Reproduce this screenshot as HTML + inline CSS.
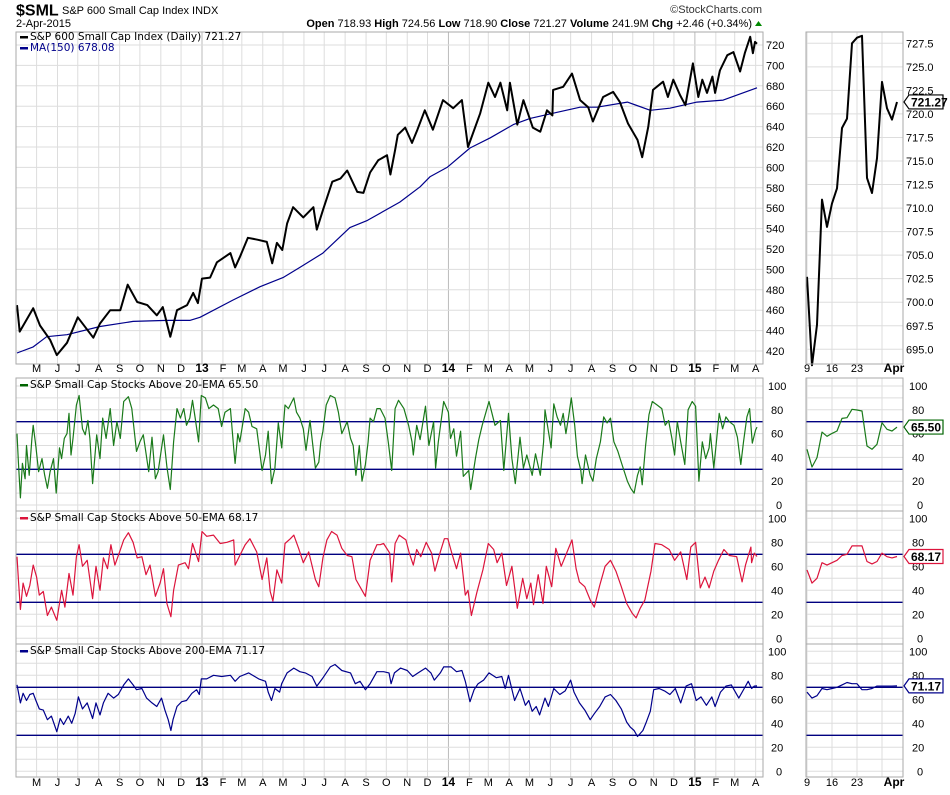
<!DOCTYPE html>
<html><head><meta charset="utf-8">
<style>
html,body{margin:0;padding:0;background:#fff;}
svg{display:block;font-family:"Liberation Sans",sans-serif;}
</style></head>
<body>
<svg id="chart" width="950" height="795" viewBox="0 0 950 795" xmlns="http://www.w3.org/2000/svg">
<rect x="0" y="0" width="950" height="795" fill="#fff"/>
<g>
<text x="16" y="15.5" font-size="16" font-weight="bold">$SML</text>
<text x="62" y="14" font-size="11">S&amp;P 600 Small Cap Index  INDX</text>
<text x="16" y="27" font-size="11">2-Apr-2015</text>
<text x="762" y="13" font-size="11" text-anchor="end" fill="#333">©StockCharts.com</text>
<text x="752" y="27" font-size="11" text-anchor="end"><tspan font-weight="bold">Open</tspan> 718.93  <tspan font-weight="bold">High</tspan> 724.56  <tspan font-weight="bold">Low</tspan> 718.90  <tspan font-weight="bold">Close</tspan> 721.27  <tspan font-weight="bold">Volume</tspan> 241.9M  <tspan font-weight="bold">Chg</tspan> +2.46 (+0.34%)</text>
<path d="M755 26 L762 26 L758.5 21 Z" fill="#080"/>
</g>
<g id="grid"></g>
<g id="marks"></g>
<g id="frames"></g>
<g id="labels"></g>
</svg>
<script>
// ---------- DATA ----------
const priceDays = [0,4,24,34,49,59,74,90,113,123,138,153,164,178,193,207,216,227,237,252,261,268,274,286,296,316,323,330,342,357,370,378,385,393,400,409,424,439,444,453,467,479,489,504,513,523,535,548,553,560,564,575,585,593,604,616,631,646,659,668,686,698,708,716,726,730,741,750,764,775,785,793,794,809,822,834,846,853,868,883,893,905,919,926,935,942,957,964,972,982,990,1001,1009,1015,1022,1030,1034,1041,1052,1061,1071,1078,1086,1090,1093,1096];
const priceValues = [465,439,462,445,431,416,428,453,433,447,460,460,485,468,465,455,463,434,460,465,477,467,491,492,507,516,502,512,531,529,527,506,526,519,545,561,551,561,539,558,586,589,597,576,575,595,607,612,593,617,632,639,624,637,656,637,666,658,666,620,653,683,669,683,656,683,642,666,639,635,656,651,676,679,692,666,659,645,669,674,664,643,627,610,640,676,684,669,686,671,661,702,669,686,673,689,673,695,710,713,694,712,728,712,723,721.27];
const maDays = [0,24,44,74,123,172,222,256,271,320,360,394,419,453,493,519,567,597,612,637,671,701,735,760,800,834,859,904,938,967,1007,1046,1096];
const maValues = [418,424,434,436,444,449,450,450,453,470,483,492,502,516,541,548,566,581,591,600,619,629,642,648,654,659,659,664,656,658,664,666,678.08];

const ema20Days = [0,2,5,8,12,14,18,22,24,28,32,37,41,45,49,54,58,63,66,70,74,77,80,83,88,92,97,101,105,108,112,118,123,127,132,138,143,148,153,158,165,170,177,182,187,195,200,205,209,217,222,227,232,237,242,247,251,256,260,264,269,273,279,284,291,298,303,308,316,321,323,327,330,338,343,348,355,363,368,372,377,382,387,392,397,402,410,414,419,424,428,434,442,447,450,453,458,464,471,476,481,489,494,498,502,507,511,516,520,523,528,533,538,545,550,555,560,565,573,580,585,587,592,597,605,610,617,620,624,632,639,642,647,651,657,661,669,672,679,684,689,694,699,703,708,716,721,728,733,738,745,750,755,763,768,775,780,782,787,791,795,800,805,809,813,817,821,826,830,835,837,842,849,853,858,864,869,874,879,884,890,896,904,909,914,919,923,926,931,936,941,948,955,960,965,970,974,978,983,989,994,1000,1005,1010,1015,1020,1025,1027,1032,1040,1045,1050,1055,1062,1067,1072,1076,1081,1085,1089,1094,1096];
const ema20Values = [60,36,6,35,22,50,25,56,67,49,28,39,25,14,28,39,10,48,39,56,60,77,42,56,84,92,64,59,71,56,18,59,39,73,56,81,50,70,56,87,91,81,45,53,59,28,57,22,28,59,32,13,53,81,73,81,67,73,88,73,53,92,90,81,84,81,66,78,81,48,35,60,53,81,78,66,64,29,42,62,18,31,69,48,84,81,90,78,73,64,46,71,31,36,53,62,84,92,90,78,60,70,56,50,25,50,20,34,53,73,70,81,81,73,52,29,81,88,81,67,53,42,67,55,83,50,70,31,53,87,78,56,64,41,62,24,29,13,39,55,67,77,87,78,67,71,29,77,39,18,57,31,42,25,43,25,53,80,62,48,85,74,67,77,60,74,90,67,41,29,18,42,25,20,39,53,74,69,73,53,45,34,20,14,10,25,32,17,50,76,87,84,81,67,71,56,42,70,53,34,80,87,83,20,53,39,48,60,31,77,64,74,70,67,57,34,53,74,81,52,63,65.5];

const ema50Days = [0,2,5,9,14,19,24,29,33,39,45,51,59,66,71,77,83,88,92,97,104,112,117,123,128,134,139,145,152,158,165,172,178,185,191,197,205,212,217,222,228,232,239,249,254,260,269,274,281,291,301,311,321,323,330,338,345,355,363,370,375,379,385,392,397,405,410,417,424,432,442,447,453,459,466,474,481,489,496,502,511,516,523,533,538,543,552,555,560,566,576,581,587,592,598,606,614,619,627,633,638,644,651,657,664,668,673,681,690,698,706,711,718,725,733,741,749,755,761,765,772,779,784,792,798,806,814,822,828,833,841,849,855,863,871,879,887,895,903,911,917,923,930,939,945,955,966,974,983,992,998,1005,1012,1019,1025,1032,1039,1047,1055,1066,1074,1079,1087,1088,1092,1096];
const ema50Values = [68,49,24,46,35,44,61,51,36,39,19,26,15,40,26,54,36,68,78,60,65,33,60,40,67,58,78,61,72,82,88,80,67,68,53,61,35,46,58,29,18,40,61,63,58,79,64,89,85,86,79,80,82,61,69,78,83,72,49,67,39,31,57,46,79,83,86,75,63,72,49,43,67,82,89,86,75,69,68,49,40,35,65,78,78,79,71,47,79,86,82,71,61,74,68,80,71,56,72,83,83,71,58,71,36,40,19,38,57,79,74,63,71,44,60,25,50,33,46,28,53,29,60,43,75,60,71,82,58,47,43,32,26,44,60,65,56,43,29,21,17,25,32,56,79,78,74,65,72,49,76,80,42,51,42,56,65,74,69,68,47,61,76,63,71,68.17];

const ema200Days = [0,2,5,9,14,19,24,28,33,39,45,51,59,64,69,76,81,86,91,97,104,112,117,123,128,135,143,150,158,165,172,177,185,192,200,207,214,219,224,228,231,237,244,251,259,266,270,273,281,291,303,316,323,330,343,358,368,372,377,382,389,392,400,410,419,427,437,444,452,464,471,481,494,501,508,516,523,533,538,543,551,554,559,568,578,586,594,605,613,618,627,632,643,651,659,664,671,677,683,691,699,710,718,723,728,737,745,753,758,763,769,774,782,787,795,804,812,820,825,833,841,849,855,863,871,879,887,895,903,908,914,919,927,932,938,943,951,959,967,975,983,991,999,1006,1013,1021,1029,1034,1042,1050,1058,1069,1077,1083,1088,1092,1096];
const ema200Values = [72,66,57,65,59,64,65,59,52,51,43,46,33,44,39,46,40,48,62,52,57,44,57,47,57,65,61,64,72,77,72,68,69,61,57,54,61,51,43,34,43,54,58,59,65,68,64,77,77,80,79,80,75,79,82,77,75,66,59,69,66,73,82,86,83,82,79,71,77,87,89,84,82,73,75,68,73,83,83,83,82,73,82,86,84,79,82,86,82,76,82,87,87,83,84,75,58,68,73,76,82,78,79,69,80,59,69,55,59,50,54,47,61,54,69,64,67,76,66,57,51,43,48,54,62,64,59,52,41,37,34,29,34,41,50,68,69,67,64,69,57,71,73,59,62,55,62,54,66,71,72,61,69,75,69,71,71.17];

// Right-hand zoom panels (daily, 9-Mar-2015 .. 2-Apr-2015)
const recentDays = ["Mar 9","Mar 10","Mar 11","Mar 12","Mar 13","Mar 16","Mar 17","Mar 18","Mar 19","Mar 20","Mar 23","Mar 24","Mar 25","Mar 26","Mar 27","Mar 30","Mar 31","Apr 1","Apr 2"];
const recentPrice = [702.7,693.3,697.6,710.9,708.0,710.5,712.1,718.5,719.5,727.5,728.1,728.3,713.2,711.6,715.3,723.4,720.6,719.4,721.27];
const recentEma20 = [46.8,31.9,39.8,61.3,57.7,60.2,62.2,72.8,73.4,80.4,79.8,79,49.6,46.8,51,69.2,63.6,62.2,65.5];
const recentEma50 = [57,46,50,63,61,63,65,69,70,77,77,77,64,62,64,71,68,67,68.17];
const recentEma200 = [66,61,63,69,68,69,70,72,74,73,73,68,68,69,71,71,71,71,71.17];

const priceTicks = [420,440,460,480,500,520,540,560,580,600,620,640,660,680,700,720];
const recentPriceTicks = [695.0,697.5,700.0,702.5,705.0,707.5,710.0,712.5,715.0,717.5,720.0,722.5,725.0,727.5];
const pctTicks = [0,20,40,60,80,100];
const refLevels = [30,70];
const monthLabels = ["M","J","J","A","S","O","N","D","13","F","M","A","M","J","J","A","S","O","N","D","14","F","M","A","M","J","J","A","S","O","N","D","15","F","M","A"];
const recentTickIdx = [0,5,10,17];
const recentTickLabels = ["9","16","23","Apr"];

// ---------- SCALES ----------
const NS="http://www.w3.org/2000/svg";
const L=16, R=763, RL=806, RR=903;
const xm = d => 17 + d*740/1096;
const xr = i => 807 + i*5;
const yp = v => 45 + (720-v)*1.02;
const yrp = v => 43.3 + (727.5-v)*9.415;
const panels = [
 {top:378,bot:511,zero:505,k:1.19},
 {top:511,bot:644,zero:638.3,k:1.2},
 {top:644,bot:777,zero:771.3,k:1.2}];
const yi = (p,v) => panels[p].zero - v*panels[p].k;

const G=document.getElementById('grid'), M=document.getElementById('marks'), F=document.getElementById('frames'), LB=document.getElementById('labels');
function mk(tag,attrs,parent){const e=document.createElementNS(NS,tag);for(const k in attrs)e.setAttribute(k,attrs[k]);parent.appendChild(e);return e;}
function txt(s,x,y,attrs,parent){const e=mk('text',Object.assign({x:x,y:y,'font-size':11},attrs),parent);e.textContent=s;return e;}

// month starts (days since 2012-04-02)
const start=Date.UTC(2012,3,2);
const monthDays=[];
for(let i=0;i<36;i++){const d=new Date(Date.UTC(2012,4+i,1));monthDays.push((d-start)/86400000);}

// ---------- GRIDS ----------
const panelRects=[{t:32,b:364}].concat(panels.map(p=>({t:p.top,b:p.bot})));
panelRects.forEach((pr,pi)=>{
  monthDays.forEach((d,i)=>{
    const yr=/^\d/.test(monthLabels[i]);
    const ln=mk('line',{x1:xm(d),x2:xm(d),y1:pr.t,y2:pr.b,stroke:yr?'#bbb':'#ddd','stroke-width':1},G);
    
    
  });
  [0,5,10,15].forEach(i=>{
    const ln=mk('line',{x1:xr(i),x2:xr(i),y1:pr.t,y2:pr.b,stroke:'#ddd'},G);
    
    
  });
});
priceTicks.forEach(v=>{
  const ln=mk('line',{x1:L,x2:R,y1:yp(v),y2:yp(v),stroke:'#ddd'},G);
  
  
  const t=txt(String(v),766,yp(v)+4,{},LB);
  
  
});
recentPriceTicks.forEach(v=>{
  const ln=mk('line',{x1:RL,x2:RR,y1:yrp(v),y2:yrp(v),stroke:'#ddd'},G);
  
  
  const t=txt(v.toFixed(1),906,yrp(v)+4,{},LB);
  
  
});
panels.forEach((p,pi)=>{
  for(let v=0;v<=100;v+=10){
    [[L,R],[RL,RR]].forEach(s=>{
      const ln=mk('line',{x1:s[0],x2:s[1],y1:yi(pi,v),y2:yi(pi,v),stroke:'#ddd'},G);
      
      
    });
  }
  pctTicks.forEach(v=>{
    [770,911].forEach(x=>{
      const t=txt(String(v),v===100?x-2:(v===0?x+6:x+1),yi(pi,v)+4,{},LB);
      
      
    });
  });
  refLevels.forEach(v=>{
    [[L,R],[RL,RR]].forEach(s=>{
      const ln=mk('line',{x1:s[0],x2:s[1],y1:yi(pi,v),y2:yi(pi,v),stroke:'#000080','stroke-width':1.3},M);
      
      
    });
  });
});

// ---------- SERIES ----------
function line(days,vals,xf,yf,color,w,name){
  let d='';
  vals.forEach((v,i)=>{d+=(i?'L':'M')+xf(days[i]).toFixed(1)+' '+yf(v).toFixed(1);});
  const p=mk('path',{d:d,fill:'none',stroke:color,'stroke-width':w,'stroke-linejoin':'round'},M);
  
  
}
const idx=recentDays.map((_,i)=>i);
line(maDays,maValues,xm,yp,'#00008b',1.2,'ma150-line');
line(priceDays,priceValues,xm,yp,'#000',2,'price-line');
line(idx,recentPrice,xr,yrp,'#000',2,'recent-price-line');
const inds=[[ema20Days,ema20Values,recentEma20,'#1a7a1a','ema20'],[ema50Days,ema50Values,recentEma50,'#dc143c','ema50'],[ema200Days,ema200Values,recentEma200,'#00008b','ema200']];
inds.forEach((s,pi)=>{
  line(s[0],s[1],xm,v=>yi(pi,v),s[3],1.2,s[4]+'-line');
  line(idx,s[2],xr,v=>yi(pi,v),s[3],1.2,'recent-'+s[4]+'-line');
});

// ---------- FRAMES ----------
panelRects.forEach((pr,pi)=>{
  [[L,R],[RL,RR]].forEach(s=>{
    const r=mk('rect',{x:s[0],y:pr.t,width:s[1]-s[0],height:pr.b-pr.t,fill:'none',stroke:'#aaa'},F);
    
    
  });
});

// ---------- X AXIS LABELS ----------
[372,786].forEach(y=>{
  monthDays.forEach((d,i)=>{
    const yr=/^\d/.test(monthLabels[i]);
    const t=txt(monthLabels[i],xm(d),y,{'text-anchor':'middle','font-weight':yr?'bold':'normal','font-size':yr?12:11},LB);
    
    
  });
  recentTickIdx.forEach((ix,i)=>{
    const t=txt(recentTickLabels[i],xr(ix)+(i===3?2:0),y,{'text-anchor':'middle','font-weight':i===3?'bold':'normal','font-size':i===3?12:11},LB);
    
    
  });
});

// ---------- LEGENDS ----------
const legends=[
 [40,'S&P 600 Small Cap Index (Daily) 721.27','#000','#000'],
 [51,'MA(150) 678.08','#00008b','#00008b'],
 [388,'S&P Small Cap Stocks Above 20-EMA 65.50','#006400','#000'],
 [521,'S&P Small Cap Stocks Above 50-EMA 68.17','#dc143c','#000'],
 [654,'S&P Small Cap Stocks Above 200-EMA 71.17','#00008b','#000']];
legends.forEach(l=>{
  const sw=mk('rect',{x:20,y:l[0]-4,width:8,height:2.5,fill:l[2]},LB);
  
  
  const t=txt(l[1],30,l[0],{'font-family':'DejaVu Sans, sans-serif','font-size':10.5,fill:l[3]},LB);
  
  
});

// ---------- VALUE BOXES ----------
function vbox(y,label,color){
  const p=mk('path',{d:`M904 ${y} L909 ${y-7} L943 ${y-7} L943 ${y+7} L909 ${y+7} Z`,fill:'#fff',stroke:color,'stroke-width':1.2},LB);
  
  
  const t=txt(label,911,y+4.5,{'font-weight':'bold','font-size':12},LB);
  
  
}
vbox(yrp(recentPrice[18]),'721.27','#000');
vbox(yi(0,recentEma20[18]),'65.50','#006400');
vbox(yi(1,recentEma50[18]),'68.17','#dc143c');
vbox(yi(2,recentEma200[18]),'71.17','#00008b');
</script>
</body></html>
